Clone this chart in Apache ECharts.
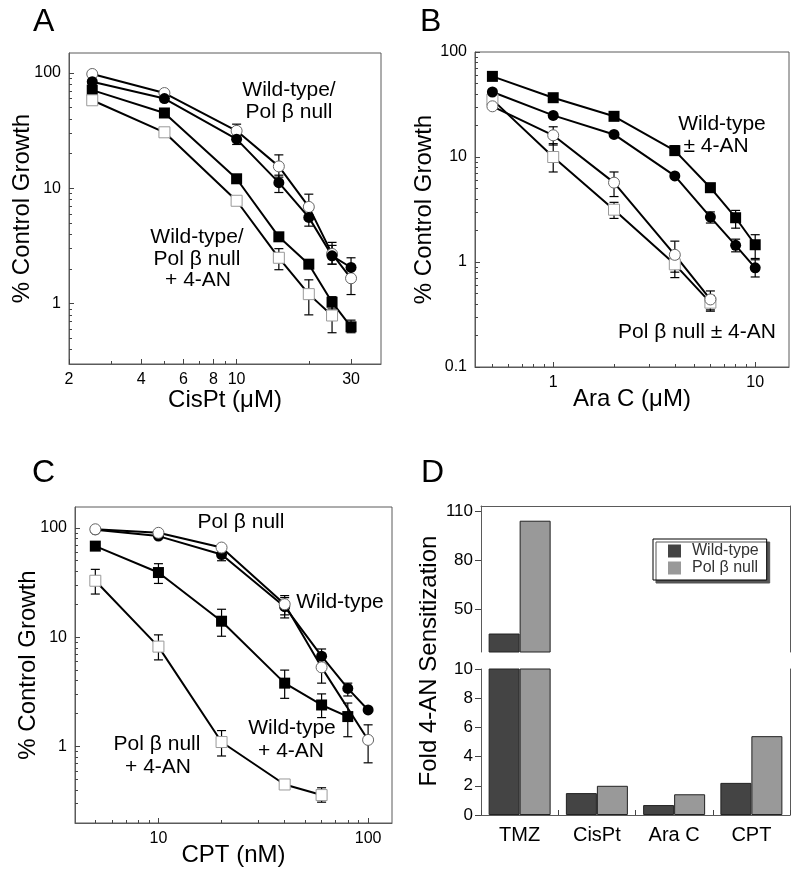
<!DOCTYPE html>
<html><head><meta charset="utf-8">
<script src="https://cdn.jsdelivr.net/npm/echarts@6/dist/echarts.min.js"></script>
<style>html,body{margin:0;padding:0;background:#fff}#c{width:800px;height:879px}</style>
</head><body><div id="c"></div>
<script>
// ================= DATA =================
// Panel A: CisPt (uM)
const aX = [2.5, 5, 10, 15, 20, 25, 30];
const aWT = [84, 60, 26.7, 11.2, 5.6, 2.6, 2.06];          // Wild-type (filled circle)
const aPol = [98, 67, 31.5, 15.5, 6.9, 2.7, 1.66];         // Pol beta null (open circle)
const aWT4AN = [71, 45, 12.1, 3.8, 2.2, 1.03, 0.63];       // Wild-type + 4-AN (filled square)
const aPol4AN = [58, 30.6, 7.8, 2.5, 1.21, 0.79, null];    // Pol beta null + 4-AN (open square)
const aErr = [ // [x, low, high]
  [10, 28, 36], [15, 12.5, 19.5], [20, 5.5, 8.9], [25, 2.2, 3.4], [30, 1.2, 2.1],
  [10, 24, 29], [15, 9.2, 13], [20, 4.7, 6.5], [25, 2.2, 3.2], [30, 1.7, 2.5],
  [25, 0.9, 1.15], [30, 0.56, 0.72],
  [15, 1.97, 3.0], [20, 0.8, 1.61], [25, 0.56, 1.0]
];
const aXLabels = [2, 4, 6, 8, 10, 30];
const aXMinor = [3, 5, 7, 9, 20];
const aYLabels = [1, 10, 100];
const aYMinor = [0.4, 0.5, 0.6, 0.7, 0.8, 0.9, 2, 3, 4, 5, 6, 7, 8, 9, 20, 30, 40, 50, 60, 70, 80, 90];

// Panel B: Ara C (uM)
const bX = [0.5, 1, 2, 4, 6, 8, 10];
const bWT4AN = [58.6, 36.7, 24.4, 11.5, 5.1, 2.64, 1.46];  // filled square
const bWT = [41.6, 24.9, 16.4, 6.6, 2.68, 1.44, 0.88];     // filled circle
const bPol = [30.4, 16.1, 5.7, 1.17, 0.44, null, null];    // open circle
const bPol4AN = [35.2, 10, 3.15, 0.95, 0.41, null, null];  // open square
const bErr = [
  [1, 13, 19.4], [2, 4.2, 7.2], [4, 0.8, 1.58], [6, 0.35, 0.53],
  [1, 7.2, 13.4], [2, 2.6, 3.7], [4, 0.71, 1.1], [6, 0.34, 0.48],
  [4, 10.5, 12.8], [6, 4.6, 5.6], [8, 2.1, 3.1], [10, 1.08, 1.82],
  [6, 2.35, 3.0], [8, 1.25, 1.65], [10, 0.72, 1.05]
];
const bXLabels = [1, 10];
const bXMinor = [0.5, 0.6, 0.7, 0.8, 0.9, 2, 3, 4, 5, 6, 7, 8, 9];
const bYLabels = [0.1, 1, 10, 100];
const bYMinor = [0.2, 0.3, 0.4, 0.5, 0.6, 0.7, 0.8, 0.9, 2, 3, 4, 5, 6, 7, 8, 9, 20, 30, 40, 50, 60, 70, 80, 90];

// Panel C: CPT (nM)
const cX = [5, 10, 20, 40, 60, 80, 100];
const cWT = [96, 84, 57, 19, 6.7, 3.4, 2.16];              // filled circle
const cPol = [97, 90, 66, 20, 5.3, null, 1.15];            // open circle
const cWT4AN = [68, 39, 14, 3.8, 2.4, 1.88, null];         // filled square
const cPol4AN = [32.8, 8.2, 1.1, 0.45, 0.36, null, null];  // open square
const cErr = [
  [5, 24.8, 41.7], [10, 6.2, 10.5], [20, 0.82, 1.4], [60, 0.31, 0.42],
  [10, 31, 47], [20, 10.2, 18], [40, 2.76, 5.0], [60, 1.84, 3.03], [80, 1.23, 2.5],
  [20, 50, 64], [40, 16, 24], [60, 5.6, 7.8], [80, 2.9, 3.8],
  [40, 15, 23], [60, 3.8, 6.5], [100, 0.71, 1.58]
];
const cXLabels = [10, 100];
const cXMinor = [5, 6, 7, 8, 9, 20, 30, 40, 50, 60, 70, 80, 90];
const cYLabels = [1, 10, 100];
const cYMinor = [0.3, 0.4, 0.5, 0.6, 0.7, 0.8, 0.9, 2, 3, 4, 5, 6, 7, 8, 9, 20, 30, 40, 50, 60, 70, 80, 90];

// Panel D: Fold 4-AN sensitization
const dCats = ['TMZ', 'CisPt', 'Ara C', 'CPT'];
const dWT = [35, 1.5, 0.68, 2.2];
const dPol = [104, 2.0, 1.42, 5.4];
const dUpperTicks = [50, 80, 110];

// ================= CHART =================
const FONT = '"Liberation Sans", Arial, Helvetica, sans-serif';
const AXIS_C = '#5a5a5a';
const fmt = v => String(+(+v).toPrecision(6));

function zip(xs, ys) {
  const out = [];
  xs.forEach((x, i) => { if (ys[i] != null) out.push([x, ys[i]]); });
  return out;
}

function logPair(dim, gi, min, max, labels, minors, name, nameGap) {
  const common = {
    type: 'log', logBase: 10, gridIndex: gi, min: min, max: max,
    position: dim === 'x' ? 'bottom' : 'left', offset: 0,
    splitLine: { show: false }, minorTick: { show: false }, minorSplitLine: { show: false }
  };
  const major = Object.assign({}, common, {
    name: name, nameLocation: 'middle', nameGap: nameGap, nameMoveOverlap: false,
    nameTextStyle: { fontSize: 24, color: '#000', fontFamily: FONT },
    axisLine: { show: true, lineStyle: { color: AXIS_C, width: 1 } },
    axisTick: { show: true, inside: true, length: 5, lineStyle: { color: '#444', width: 1 }, customValues: labels },
    axisLabel: { show: true, customValues: labels, fontSize: 16, color: '#000', fontFamily: FONT, margin: 8, formatter: fmt }
  });
  const minor = Object.assign({}, common, {
    axisLine: { show: false }, axisLabel: { show: false },
    axisTick: { show: true, inside: true, length: 3, lineStyle: { color: '#444', width: 1 }, customValues: minors }
  });
  return [major, minor];
}

const MARK = {
  fc: { symbol: 'circle', symbolSize: 11, itemStyle: { color: '#000', opacity: 1 } },
  oc: { symbol: 'circle', symbolSize: 11, itemStyle: { color: '#fff', borderColor: '#666', borderWidth: 1, opacity: 1 } },
  fs: { symbol: 'rect', symbolSize: 11, itemStyle: { color: '#000', opacity: 1 } },
  os: { symbol: 'rect', symbolSize: 11, itemStyle: { color: '#fff', borderColor: '#999', borderWidth: 1, opacity: 1 } }
};

function curve(name, xi, yi, xs, ys, kind) {
  const data = zip(xs, ys);
  return [
    { name: name + ' line', type: 'line', xAxisIndex: xi, yAxisIndex: yi, data: data, showSymbol: false,
      lineStyle: { color: '#000', width: 2 }, z: 2, silent: true, animation: false },
    Object.assign({ name: name, type: 'scatter', xAxisIndex: xi, yAxisIndex: yi, data: data, z: 4,
      silent: true, animation: false }, MARK[kind])
  ];
}

function renderErr(params, api) {
  const x = api.value(0), lo = api.value(1), hi = api.value(2);
  const p1 = api.coord([x, hi]);
  const p2 = api.coord([x, lo]);
  const w = 4.5;
  const st = { stroke: '#000', lineWidth: 1.2 };
  return { type: 'group', children: [
    { type: 'line', shape: { x1: p1[0], y1: p1[1], x2: p2[0], y2: p2[1] }, style: st },
    { type: 'line', shape: { x1: p1[0] - w, y1: p1[1], x2: p1[0] + w, y2: p1[1] }, style: st },
    { type: 'line', shape: { x1: p2[0] - w, y1: p2[1], x2: p2[0] + w, y2: p2[1] }, style: st }
  ] };
}
function errSeries(name, xi, yi, data) {
  return { name: name, type: 'custom', xAxisIndex: xi, yAxisIndex: yi, data: data,
    encode: { x: 0, y: [1, 2] }, renderItem: renderErr, z: 3, silent: true, animation: false };
}

function txt(text, x, y, size, align, rot) {
  return { type: 'text', x: x, y: y, rotation: rot || 0, silent: true,
    style: { text: text, font: size + 'px ' + FONT, fill: '#000',
      align: align || 'center', textAlign: align || 'center',
      verticalAlign: 'middle', textVerticalAlign: 'middle' } };
}

const boxGrid = { show: true, borderColor: AXIS_C, borderWidth: 1, backgroundColor: 'transparent', containLabel: false, outerBoundsMode: 'none' };
const plainGrid = { show: false, containLabel: false, outerBoundsMode: 'none' };

const grids = [
  Object.assign({ left: 69, top: 53, width: 312, height: 311 }, boxGrid),
  Object.assign({ left: 475, top: 52, width: 314, height: 315 }, boxGrid),
  Object.assign({ left: 75, top: 507, width: 317, height: 316 }, boxGrid),
  Object.assign({ left: 481, top: 506, width: 309, height: 146 }, plainGrid),
  Object.assign({ left: 481, top: 669, width: 309, height: 146 }, plainGrid)
];

const lineC = { show: true, lineStyle: { color: AXIS_C, width: 1 } };

const xAxes = [].concat(
  logPair('x', 0, 2, 40, aXLabels, aXMinor, 'CisPt (\u03bcM)', 24),
  logPair('x', 1, 0.41, 14.7, bXLabels, bXMinor, 'Ara C (\u03bcM)', 20),
  logPair('x', 2, 4, 130, cXLabels, cXMinor, 'CPT (nM)', 20),
  [
    { type: 'category', gridIndex: 3, data: dCats, position: 'top', axisLine: lineC,
      axisTick: { show: false }, axisLabel: { show: false }, splitLine: { show: false } },
    { type: 'category', gridIndex: 4, data: dCats, position: 'bottom', axisLine: lineC,
      axisTick: { show: true, inside: true, length: 5, alignWithLabel: false, interval: 0, lineStyle: { color: '#444' } },
      axisLabel: { fontSize: 20, color: '#000', fontFamily: FONT, margin: 10 }, splitLine: { show: false } }
  ]
);

const yAxes = [].concat(
  logPair('y', 0, 0.3, 149, aYLabels, aYMinor, '% Control Growth', 35),
  logPair('y', 1, 0.1, 100, bYLabels, bYMinor, '% Control Growth', 39),
  logPair('y', 2, 0.2, 155, cYLabels, cYMinor, '% Control Growth', 35),
  [
    { type: 'value', gridIndex: 3, min: 23.7, max: 113, position: 'left', axisLine: lineC,
      axisTick: { show: true, inside: false, length: 6, customValues: dUpperTicks, lineStyle: { color: '#444' } },
      axisLabel: { customValues: dUpperTicks, fontSize: 17, color: '#000', fontFamily: FONT, margin: 8 },
      splitLine: { show: false } },
    { type: 'value', gridIndex: 3, min: 23.7, max: 113, position: 'right', axisLine: lineC,
      axisTick: { show: false }, axisLabel: { show: false }, splitLine: { show: false } },
    { type: 'value', gridIndex: 4, min: 0, max: 10, interval: 2, position: 'left', axisLine: lineC,
      axisTick: { show: true, inside: false, length: 6, lineStyle: { color: '#444' } },
      axisLabel: { fontSize: 17, color: '#000', fontFamily: FONT, margin: 8 },
      splitLine: { show: false } },
    { type: 'value', gridIndex: 4, min: 0, max: 10, interval: 2, position: 'right', axisLine: lineC,
      axisTick: { show: false }, axisLabel: { show: false }, splitLine: { show: false } }
  ]
);

const barBase = { type: 'bar', barWidth: 31, barGap: '0%', silent: true, animation: false, clip: true };
const WT_C = '#444', POL_C = '#999';

const series = [].concat(
  errSeries('A err', 0, 0, aErr),
  curve('A Pol null', 0, 0, aX, aPol, 'oc'),
  curve('A Wild-type', 0, 0, aX, aWT, 'fc'),
  curve('A Wild-type + 4-AN', 0, 0, aX, aWT4AN, 'fs'),
  curve('A Pol null + 4-AN', 0, 0, aX, aPol4AN, 'os'),

  errSeries('B err', 2, 2, bErr),
  curve('B Pol null + 4-AN', 2, 2, bX, bPol4AN, 'os'),
  curve('B Pol null', 2, 2, bX, bPol, 'oc'),
  curve('B Wild-type', 2, 2, bX, bWT, 'fc'),
  curve('B Wild-type + 4-AN', 2, 2, bX, bWT4AN, 'fs'),

  errSeries('C err', 4, 4, cErr),
  curve('C Pol null + 4-AN', 4, 4, cX, cPol4AN, 'os'),
  curve('C Wild-type + 4-AN', 4, 4, cX, cWT4AN, 'fs'),
  curve('C Wild-type', 4, 4, cX, cWT, 'fc'),
  curve('C Pol null', 4, 4, cX, cPol, 'oc'),

  [
    Object.assign({ name: 'Wild-type', xAxisIndex: 7, yAxisIndex: 8, data: dWT,
      itemStyle: { color: WT_C, borderColor: '#222', borderWidth: 1 } }, barBase),
    Object.assign({ name: 'Pol \u03b2 null', xAxisIndex: 7, yAxisIndex: 8, data: dPol,
      itemStyle: { color: POL_C, borderColor: '#222', borderWidth: 1 } }, barBase),
    Object.assign({ name: 'Wild-type', xAxisIndex: 6, yAxisIndex: 6, data: dWT,
      itemStyle: { color: WT_C, borderColor: '#222', borderWidth: 1 } }, barBase),
    Object.assign({ name: 'Pol \u03b2 null', xAxisIndex: 6, yAxisIndex: 6, data: dPol,
      itemStyle: { color: POL_C, borderColor: '#222', borderWidth: 1 } }, barBase)
  ]
);

const chart = echarts.init(document.getElementById('c'), null, { renderer: 'canvas' });
chart.setOption({
  animation: false,
  backgroundColor: '#fff',
  textStyle: { fontFamily: FONT },
  grid: grids,
  xAxis: xAxes,
  yAxis: yAxes,
  legend: {
    orient: 'vertical', left: 653, top: 539, itemWidth: 13, itemHeight: 13, itemGap: 1,
    padding: [4, 8, 4, 15], backgroundColor: '#fff', borderColor: '#000', borderWidth: 1,
    shadowColor: '#555', shadowOffsetX: 3, shadowOffsetY: 3, shadowBlur: 0,
    selectedMode: false, icon: 'rect',
    textStyle: { fontSize: 16, color: '#333', fontFamily: FONT, padding: [0, 0, 0, 6] },
    data: [
      { name: 'Wild-type', itemStyle: { color: WT_C, borderWidth: 0 } },
      { name: 'Pol \u03b2 null', itemStyle: { color: POL_C, borderWidth: 0 } }
    ]
  },
  graphic: { elements: [
    txt('A', 33, 22, 32, 'left'),
    txt('B', 420, 22, 32, 'left'),
    txt('C', 32, 473, 32, 'left'),
    txt('D', 421, 473, 32, 'left'),
    txt('Wild-type/', 289, 90, 21),
    txt('Pol \u03b2 null', 289, 112, 21),
    txt('Wild-type/', 197, 237, 21),
    txt('Pol \u03b2 null', 197, 259, 21),
    txt('+ 4-AN', 198, 280, 21),
    txt('Wild-type', 722, 124, 21),
    txt('\u00b1 4-AN', 716, 146, 21),
    txt('Pol \u03b2 null \u00b1 4-AN', 697, 332, 21),
    txt('Pol \u03b2 null', 241, 522, 21),
    txt('Wild-type', 340, 602, 21),
    txt('Wild-type', 292, 728, 21),
    txt('+ 4-AN', 291, 751, 21),
    txt('Pol \u03b2 null', 157, 744, 21),
    txt('+ 4-AN', 158, 767, 21),
    txt('Fold 4-AN Sensitization', 429, 661, 24, 'center', Math.PI / 2)
  ] },
  series: series
});
</script>
</body></html>
